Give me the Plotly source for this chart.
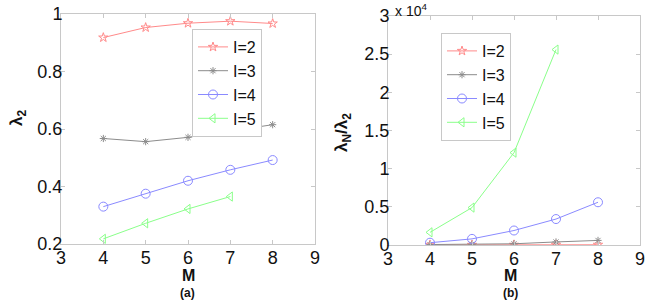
import plotly.graph_objects as go

M = [4, 5, 6, 7, 8]
labels = ["I=2", "I=3", "I=4", "I=5"]
lam2 = {
    "I=2": [0.918, 0.953, 0.968, 0.975, 0.967],
    "I=3": [0.567, 0.556, 0.571, 0.593, 0.615],
    "I=4": [0.330, 0.375, 0.420, 0.458, 0.492],
    "I=5": [0.218, 0.272, 0.322, 0.365],
}
# lambda_N / lambda_2 in units of 1e4
ratio = {
    "I=2": [0.002, 0.002, 0.003, 0.003, 0.003],
    "I=3": [0.006, 0.010, 0.016, 0.040, 0.060],
    "I=4": [0.030, 0.080, 0.190, 0.340, 0.560],
    "I=5": [0.166, 0.490, 1.210, 2.560],
}
colors = {"I=2": "#ff8a8a", "I=3": "#8c8c8c", "I=4": "#8a8aff", "I=5": "#8aff8a"}
symbols = {"I=2": "star-open", "I=3": "asterisk-open", "I=4": "circle-open", "I=5": "triangle-left-open"}
sizes = {"I=2": 7, "I=3": 6, "I=4": 9, "I=5": 8}

FONT = "Liberation Sans, Arial, sans-serif"
fig = go.Figure()
for lab in labels:
    fig.add_trace(go.Scatter(
        x=M[:len(lam2[lab])], y=lam2[lab], mode="lines+markers", name=lab,
        line=dict(color=colors[lab], width=1),
        marker=dict(symbol=symbols[lab], size=sizes[lab], color=colors[lab], line=dict(width=1, color=colors[lab])),
        xaxis="x", yaxis="y", legend="legend"))
for lab in labels:
    fig.add_trace(go.Scatter(
        x=M[:len(ratio[lab])], y=ratio[lab], mode="lines+markers", name=lab,
        line=dict(color=colors[lab], width=1),
        marker=dict(symbol=symbols[lab], size=sizes[lab], color=colors[lab], line=dict(width=1, color=colors[lab])),
        xaxis="x2", yaxis="y2", legend="legend2"))

W, H = 651, 300
ax_common = dict(showline=True, mirror="ticks", linecolor="#c8c8c8", linewidth=1,
                 ticks="inside", ticklen=4, tickcolor="#c8c8c8", showgrid=False, zeroline=False,
                 automargin=False,
                 tickfont=dict(family=FONT, size=18, color="#111"))
fig.update_layout(
    width=W, height=H, margin=dict(l=0, r=0, t=0, b=0, pad=0, autoexpand=False),
    paper_bgcolor="white", plot_bgcolor="white",
    font=dict(family=FONT, color="#111"),
    xaxis=dict(domain=[61/W, 315/W], range=[3, 9], tickvals=[3, 4, 5, 6, 7, 8, 9], anchor="y",
               ticklabelstandoff=-3, **ax_common),
    yaxis=dict(domain=[1-244/H, 1-14/H], range=[0.2, 1.0], tickvals=[0.2, 0.4, 0.6, 0.8, 1.0],
               ticktext=["0.2", "0.4", "0.6", "0.8", "1"], anchor="x", ticklabelstandoff=-6, **ax_common),
    xaxis2=dict(domain=[388/W, 640/W], range=[3, 9], tickvals=[3, 4, 5, 6, 7, 8, 9], anchor="y2",
                ticklabelstandoff=-3, **ax_common),
    yaxis2=dict(domain=[1-245/H, 1-16/H], range=[0, 3], tickvals=[0, 0.5, 1, 1.5, 2, 2.5, 3],
                ticktext=["0", "0.5", "1", "1.5", "2", "2.5", "3"], anchor="x2", ticklabelstandoff=-6, **ax_common),
    legend=dict(x=192/W, y=1-29/H, xanchor="left", yanchor="top", bordercolor="#c8c8c8", borderwidth=1,
                bgcolor="white", font=dict(family=FONT, size=16), tracegroupgap=0, itemwidth=30),
    legend2=dict(x=441/W, y=1-33/H, xanchor="left", yanchor="top", bordercolor="#c8c8c8", borderwidth=1,
                 bgcolor="white", font=dict(family=FONT, size=16), tracegroupgap=0, itemwidth=30),
    showlegend=True,
    annotations=[
        dict(text="<b>λ<sub>2</sub></b>", x=18, y=118, textangle=-90, showarrow=False,
             font=dict(family=FONT, size=17)),
        dict(text="<b>M</b>", x=188, y=275, showarrow=False, font=dict(family=FONT, size=16)),
        dict(text="<b>(a)</b>", x=187, y=293, showarrow=False, font=dict(family=FONT, size=12)),
        dict(text="<b>λ<sub>N</sub>/λ<sub>2</sub></b>", x=343, y=133, textangle=-90, showarrow=False,
             font=dict(family=FONT, size=17)),
        dict(text="<b>M</b>", x=510, y=275, showarrow=False, font=dict(family=FONT, size=16)),
        dict(text="<b>(b)</b>", x=510, y=293, showarrow=False, font=dict(family=FONT, size=12)),
        dict(text="x 10<sup>4</sup>", x=411, y=10, showarrow=False, font=dict(family=FONT, size=14)),
    ],
)
for a in fig.layout.annotations:
    a.xref = "paper"; a.yref = "paper"
    a.xanchor = "center"; a.yanchor = "middle"
    a.x = a.x / W
    a.y = 1 - a.y / H
fig.write_html("out.html")
